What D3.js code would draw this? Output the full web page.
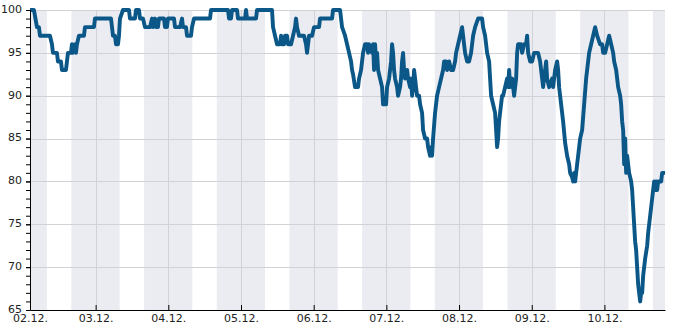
<!DOCTYPE html>
<html>
<head>
<meta charset="utf-8">
<script src="https://cdn.jsdelivr.net/npm/d3@7"></script>
<style>
    body { margin: 0; background: #fff; }
    #hum-chart { width: 685px; height: 330px; }
    .hum-axis text { font-family: 'DejaVu Sans', sans-serif; font-size: 11px; fill: #222; }
    .hum-axis path, .hum-axis line { stroke: #000; }
</style>
</head>
<body>
<div id="hum-chart"></div>
<script>
// hours since 02.12. 00:00
const hours = [
    2.33, 3.63, 4.13, 4.62, 5.28, 5.62, 8.92, 9.58, 9.91, 11.23,
    11.56, 12.55, 12.88, 14.20, 14.53, 14.86, 15.85, 16.18, 16.52, 17.18,
    17.51, 17.84, 18.50, 20.15, 20.48, 23.45, 23.78, 29.07, 29.40, 29.73,
    30.39, 30.72, 31.38, 31.71, 32.04, 33.03, 35.01, 35.34, 36.99, 37.32,
    38.31, 38.65, 39.64, 40.30, 41.95, 42.61, 42.94, 43.60, 43.93, 44.59,
    44.92, 46.57, 46.90, 47.56, 47.89, 49.88, 50.21, 51.86, 52.52, 52.85,
    53.84, 54.17, 55.49, 55.82, 56.48, 61.77, 62.10, 67.71, 68.04, 68.70,
    69.03, 70.68, 71.01, 73.33, 73.66, 73.99, 76.96, 77.29, 82.24, 82.58,
    83.24, 83.90, 84.89, 85.22, 85.55, 86.21, 86.54, 87.20, 87.53, 88.52,
    89.18, 89.84, 90.17, 90.50, 91.16, 92.81, 93.47, 93.81, 94.14, 94.47,
    95.46, 96.12, 97.77, 98.10, 102.06, 102.39, 104.71, 105.37, 106.36, 107.02,
    107.68, 108.34, 108.67, 109.00, 109.66, 110.65, 110.98, 111.64, 111.97, 112.30,
    112.96, 113.62, 113.95, 114.28, 115.27, 115.61, 115.94, 116.27, 116.60, 116.93,
    117.26, 117.92, 118.58, 118.91, 119.90, 120.23, 120.89, 121.55, 121.88, 122.21,
    122.54, 122.87, 123.53, 123.86, 124.52, 124.85, 125.18, 125.51, 125.84, 126.17,
    126.84, 127.17, 127.83, 128.16, 128.49, 128.82, 129.15, 129.48, 129.81, 130.14,
    130.80, 131.13, 131.79, 132.12, 132.78, 133.44, 133.77, 134.43, 134.76, 135.09,
    135.42, 136.08, 136.74, 137.40, 138.07, 138.73, 139.06, 139.72, 140.05, 140.71,
    141.37, 142.03, 142.69, 143.02, 143.68, 144.34, 145.00, 145.33, 145.99, 146.65,
    147.31, 147.97, 148.64, 149.30, 150.29, 151.61, 151.94, 152.60, 153.26, 153.92,
    154.25, 154.58, 155.24, 155.90, 156.23, 156.56, 156.89, 157.22, 157.55, 158.21,
    158.54, 159.20, 159.87, 160.20, 160.53, 160.86, 161.52, 161.85, 162.18, 162.84,
    163.17, 163.50, 164.49, 164.82, 165.48, 166.14, 166.47, 166.80, 167.46, 168.12,
    168.78, 170.10, 170.77, 171.43, 171.76, 172.42, 172.75, 173.08, 173.74, 174.73,
    175.06, 175.72, 176.38, 176.71, 177.04, 177.70, 178.36, 179.02, 179.68, 180.34,
    180.67, 181.33, 181.67, 182.00, 182.33, 182.99, 183.32, 183.98, 184.64, 185.30,
    185.96, 186.29, 186.95, 187.61, 188.27, 188.93, 189.59, 190.58, 191.24, 191.57,
    192.23, 192.90, 193.56, 194.22, 194.88, 195.21, 195.87, 196.53, 197.19, 197.52,
    197.85, 198.18, 198.51, 198.84, 199.17, 199.50, 199.83, 200.16, 200.82, 201.15,
    201.48, 201.81, 202.14, 202.47, 202.80, 203.13, 203.46, 203.80, 204.13, 204.46,
    204.79, 205.45, 206.11, 206.44, 207.10, 207.43, 208.09, 208.42, 208.75, 209.08,
    209.41, 209.74, 210.73, 211.06, 212.00
];

// relative humidity (%)
const humidity = [
    100, 100, 99, 98, 98, 97, 97, 96, 95, 95,
    94, 94, 93, 93, 94, 95, 95, 96, 95, 96,
    95, 96, 97, 97, 98, 98, 99, 99, 98, 97,
    97, 96, 96, 97, 99, 100, 100, 99, 99, 100,
    100, 99, 99, 98, 98, 99, 98, 99, 98, 98,
    99, 99, 98, 98, 99, 99, 98, 98, 99, 98,
    98, 97, 97, 98, 99, 99, 100, 100, 99, 99,
    100, 100, 99, 99, 100, 99, 99, 100, 100, 98,
    97, 96, 96, 97, 96, 96, 97, 97, 96, 96,
    97, 98, 99, 98, 97, 97, 96, 95, 96, 97,
    97, 98, 98, 99, 99, 100, 100, 98, 97, 96,
    95, 94, 93, 92.5, 91, 91, 92, 93, 94, 95,
    96, 96, 95, 96, 95, 96, 93, 96, 94, 95,
    93, 92, 91, 89, 89, 91, 92, 94, 96, 95,
    93, 92, 91, 90, 91, 92, 94, 95, 93, 92,
    93, 92, 91, 92, 90, 91, 93, 92, 91, 90,
    90, 89, 88, 86, 85, 85, 84, 83, 84, 83,
    85, 88, 90, 91, 92, 93, 94, 94, 93, 94,
    93, 93, 94, 95, 96, 97, 98, 97, 95, 94,
    94, 95, 97, 98, 99, 99, 98, 97, 95, 94,
    92, 90, 89, 88, 86, 84, 85, 87, 88, 90,
    90, 91, 92, 91, 93, 91, 92, 91, 90, 92,
    95, 96, 96, 95, 96, 96, 97, 95, 94, 94,
    95, 95, 94, 92, 91, 93, 94, 92, 91, 92,
    91, 93, 94, 93, 91, 89, 87, 84.5, 83, 82,
    81, 80.5, 80, 81, 80, 82, 83, 85, 86, 89,
    92, 93, 95, 96, 97, 98, 97, 96, 96, 95,
    95, 96, 97, 96, 95, 94, 93, 91, 90, 89,
    87, 86, 82, 85, 81, 83, 82, 81, 80, 79,
    77, 75, 73, 72, 70, 68, 67, 66, 67, 67,
    69, 71, 72.5, 74, 76, 77, 79, 80, 79, 80,
    79, 80, 80, 81, 81
];

const dayLabels = ['02.12.', '03.12.', '04.12.', '05.12.', '06.12.', '07.12.', '08.12.', '09.12.', '10.12.'];
const yTicks = [65, 70, 75, 80, 85, 90, 95, 100];
const timeRange = [2.33, 212]; // hours shown
const nightStart = 16;  // hour of day
const nightEnd = 7.92;  // hour of day (next morning)

class HumidityChart {
    constructor(el) {
        const vis = this;
        vis.el = el;
        vis.base = Date.UTC(2024, 11, 2);
        vis.data = hours.map((h, i) => ({ t: vis.toDate(h), v: humidity[i] }));
        vis.init();
    }

    toDate(h) {
        return new Date(this.base + h * 3600e3);
    }

    init() {
        const vis = this;
        vis.chartDiv = document.getElementById(vis.el);
        vis.chartDiv.innerHTML = '';

        vis.svg = d3.select(vis.chartDiv).append('svg');
        vis.g = vis.svg.append('g');

        vis.bands = vis.g.append('g').attr('class', 'hum-bands');
        vis.grid = vis.g.append('g').attr('class', 'hum-grid');
        vis.lineG = vis.g.append('g');
        vis.xAxis = vis.g.append('g').attr('class', 'hum-axis');
        vis.yMinor = vis.g.append('g').attr('class', 'hum-axis');
        vis.yAxis = vis.g.append('g').attr('class', 'hum-axis');

        vis.redraw();
    }

    redraw() {
        const vis = this;

        const width = 685;
        const height = 330;
        const MARGIN = { top: 10, right: 20, bottom: 20, left: 30 };
        const gWIDTH = width - MARGIN.left - MARGIN.right;
        const gHEIGHT = height - MARGIN.top - MARGIN.bottom;

        vis.svg.attr('width', width).attr('height', height);
        vis.g.attr('transform', `translate(${MARGIN.left}, ${MARGIN.top})`);

        // X SCALE
        const x = d3.scaleUtc()
            .domain(timeRange.map(h => vis.toDate(h)))
            .range([0, gWIDTH]);

        // Y SCALE
        const y = d3.scaleLinear()
            .domain([yTicks[0], yTicks[yTicks.length - 1]])
            .range([gHEIGHT, 0]);

        const [t0, t1] = x.domain();
        const midnights = dayLabels.slice(1).map((d, i) => vis.toDate((i + 1) * 24));

        // NIGHT BANDS
        const nights = d3.range(-1, dayLabels.length).map(d => [
            vis.toDate(d * 24 + nightStart),
            vis.toDate((d + 1) * 24 + nightEnd)
        ]);

        vis.bands.selectAll('rect')
            .data(nights)
            .join('rect')
            .attr('x', d => x(d3.max([d[0], t0])))
            .attr('width', d => Math.max(0, x(d3.min([d[1], t1])) - x(d3.max([d[0], t0]))))
            .attr('y', 0)
            .attr('height', gHEIGHT)
            .attr('fill', '#ebecf2');

        // GRID
        vis.grid.selectAll('.hum-hgrid')
            .data(yTicks.slice(1))
            .join('line')
            .attr('class', 'hum-hgrid')
            .attr('x1', 0)
            .attr('x2', gWIDTH)
            .attr('y1', d => Math.round(y(d)) + 0.5)
            .attr('y2', d => Math.round(y(d)) + 0.5)
            .attr('stroke', '#d2d2d6');

        vis.grid.selectAll('.hum-vgrid')
            .data(midnights)
            .join('line')
            .attr('class', 'hum-vgrid')
            .attr('x1', d => Math.round(x(d)) + 0.5)
            .attr('x2', d => Math.round(x(d)) + 0.5)
            .attr('y1', 0)
            .attr('y2', gHEIGHT)
            .attr('stroke', '#d2d2d6');

        // LINE
        const line = d3.line()
            .x(d => x(d.t))
            .y(d => y(d.v));

        vis.lineG.selectAll('path')
            .data([vis.data])
            .join('path')
            .attr('d', line)
            .attr('fill', 'none')
            .attr('stroke', '#0a5788')
            .attr('stroke-width', 3.9)
            .attr('stroke-linejoin', 'round');

        // X AXIS
        const xTicks = [t0].concat(midnights);
        vis.xAxis
            .attr('transform', `translate(0, ${gHEIGHT})`)
            .call(d3.axisBottom(x)
                .tickValues(xTicks)
                .tickSizeInner(-5)
                .tickSizeOuter(0)
                .tickPadding(4)
                .tickFormat((d, i) => dayLabels[i]));

        // Y AXIS (MINOR)
        vis.yMinor.call(d3.axisLeft(y)
            .tickValues(d3.range(yTicks[0], yTicks[yTicks.length - 1] + 1))
            .tickSizeInner(4)
            .tickSizeOuter(0)
            .tickFormat(''));

        // Y AXIS
        vis.yAxis.call(d3.axisLeft(y)
            .tickValues(yTicks)
            .tickSizeInner(4)
            .tickSizeOuter(0)
            .tickPadding(4)
            .tickFormat(d => d));

        vis.yAxis.selectAll('text').attr('dy', '0.22em');
    }
}

new HumidityChart('hum-chart');
</script>
</body>
</html>
